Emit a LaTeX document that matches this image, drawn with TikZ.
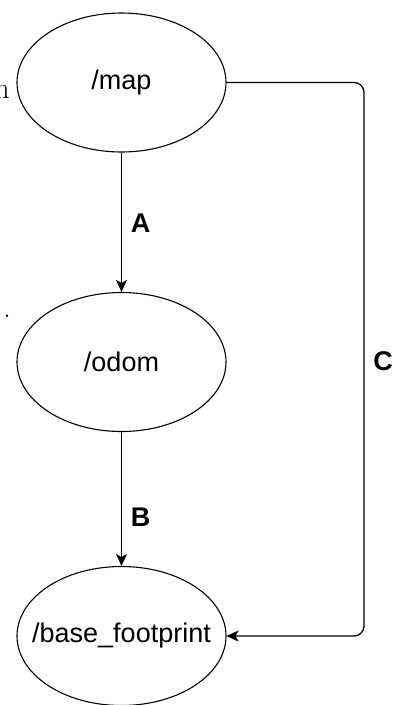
\documentclass[tikz,border=0pt]{standalone}
\usepackage{fontspec}
\setsansfont{Liberation Sans}
\usetikzlibrary{shapes.geometric,arrows.meta}
\begin{document}
\begin{tikzpicture}[x=1pt,y=-1pt,
  state/.style={ellipse,draw,line width=1.1pt,minimum width=209pt,minimum height=139pt,inner sep=0pt,
    label={[font=\sffamily\fontsize{27}{31}\selectfont,inner sep=0pt]center:#1}},
  conn/.style={draw,line width=1.3pt,-{Stealth[length=12pt,width=11pt,inset=3pt]}},
  lbl/.style={font=\sffamily\bfseries\fontsize{27}{30}\selectfont,inner sep=0pt},
  frag/.style={font=\fontsize{30}{34}\selectfont,inner sep=0pt}]
\useasboundingbox (0,0) rectangle (397,705);
\begin{scope}
\clip (0,0) rectangle (397,705);
\node[frag,anchor=base east] (fragn) at (10,98) {n};
\node[frag,anchor=base east] (fragdot) at (11,317) {.};
\end{scope}
\node[state=/map] (map) at (121.5,82.5) {};
\node[state=/odom] (odom) at (121.5,362) {};
\node[state=/base\_footprint] (base) at (121.5,636) {};
\coordinate (c1) at (364,82.5);
\coordinate (c2) at (364,636);
\draw[conn] (map) -- (odom);
\draw[conn] (odom) -- (base);
\draw[conn,rounded corners=10pt] (map.east) -- (c1) -- (c2) -- (base.east);
\node[lbl] (la) at (140.5,223) {A};
\node[lbl] (lb) at (140.5,517) {B};
\node[lbl] (lc) at (383,361) {C};
\end{tikzpicture}
\end{document}
